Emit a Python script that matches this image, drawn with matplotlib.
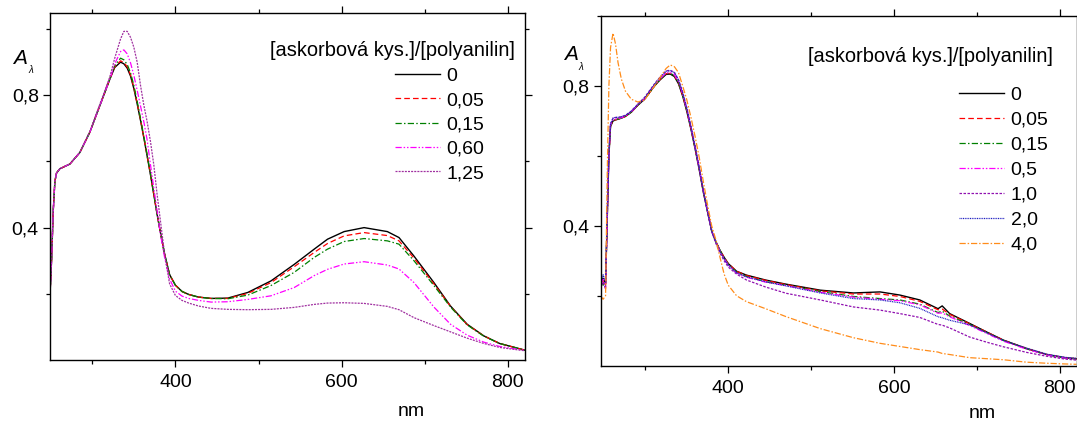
import matplotlib
matplotlib.use("Agg")
import matplotlib.pyplot as plt
from matplotlib.ticker import FixedLocator

plt.rcParams['font.family'] = ['Liberation Sans', 'DejaVu Sans']

# ---------------- Left panel data ----------------
wl_L = [249, 251, 253, 255, 257, 261, 267, 273, 285, 297, 309, 321, 327, 334, 338, 342,
        346, 350, 354, 358, 362, 366, 370, 374, 378, 382, 387, 393, 400, 408, 416, 428,
        443, 463, 487, 515, 543, 567, 583, 603, 627, 655, 669, 687, 711, 731, 751, 771,
        790, 805, 820]

L_0 = [0.19, 0.30, 0.45, 0.54, 0.565, 0.578, 0.585, 0.592, 0.627, 0.688, 0.768, 0.848, 0.884, 0.900, 0.895, 0.882,
       0.858, 0.820, 0.774, 0.724, 0.672, 0.616, 0.560, 0.500, 0.440, 0.385, 0.320, 0.258, 0.226, 0.207, 0.198, 0.190,
       0.186, 0.187, 0.204, 0.239, 0.289, 0.335, 0.365, 0.388, 0.400, 0.388, 0.370, 0.314, 0.234, 0.163, 0.108, 0.073,
       0.050, 0.040, 0.030]
L_005 = [0.19, 0.30, 0.45, 0.54, 0.565, 0.578, 0.585, 0.592, 0.627, 0.688, 0.768, 0.848, 0.886, 0.904, 0.899, 0.886,
         0.862, 0.823, 0.776, 0.726, 0.673, 0.617, 0.561, 0.500, 0.440, 0.385, 0.320, 0.258, 0.226, 0.207, 0.198, 0.190,
         0.186, 0.186, 0.201, 0.234, 0.282, 0.325, 0.352, 0.375, 0.385, 0.376, 0.360, 0.308, 0.230, 0.162, 0.107, 0.073,
         0.050, 0.040, 0.030]
L_015 = [0.19, 0.30, 0.45, 0.54, 0.565, 0.578, 0.585, 0.592, 0.627, 0.688, 0.768, 0.848, 0.890, 0.912, 0.907, 0.893,
         0.868, 0.830, 0.782, 0.730, 0.676, 0.620, 0.563, 0.502, 0.441, 0.385, 0.320, 0.258, 0.226, 0.207, 0.198, 0.190,
         0.186, 0.185, 0.196, 0.225, 0.265, 0.310, 0.335, 0.358, 0.367, 0.360, 0.350, 0.300, 0.225, 0.160, 0.106, 0.072,
         0.050, 0.040, 0.030]
L_060 = [0.19, 0.30, 0.45, 0.54, 0.565, 0.578, 0.585, 0.592, 0.627, 0.688, 0.768, 0.848, 0.895, 0.932, 0.937, 0.925,
         0.898, 0.860, 0.815, 0.768, 0.720, 0.665, 0.590, 0.520, 0.450, 0.380, 0.310, 0.245, 0.208, 0.193, 0.186, 0.180,
         0.175, 0.176, 0.183, 0.194, 0.219, 0.255, 0.274, 0.290, 0.297, 0.287, 0.275, 0.234, 0.160, 0.108, 0.075, 0.054,
         0.041, 0.035, 0.029]
L_125 = [0.19, 0.30, 0.45, 0.54, 0.565, 0.578, 0.585, 0.592, 0.627, 0.690, 0.772, 0.855, 0.912, 0.970, 0.993, 0.993,
         0.975, 0.945, 0.900, 0.830, 0.770, 0.720, 0.660, 0.590, 0.500, 0.420, 0.320, 0.230, 0.195, 0.180, 0.172, 0.163,
         0.156, 0.153, 0.152, 0.153, 0.159, 0.168, 0.172, 0.173, 0.171, 0.162, 0.152, 0.128, 0.104, 0.085, 0.066, 0.050,
         0.038, 0.033, 0.028]

labels_L = ['0', '0,05', '0,15', '0,60', '1,25']

# ---------------- Right panel data ----------------
wl_R = [246, 249, 252, 254, 256, 258, 261, 264, 267, 271, 276, 283, 291, 299, 311, 318, 325, 330,
        335, 340, 345, 350, 355, 360, 365, 370, 375, 380, 385, 390, 395, 400, 410, 422, 445, 470,
        511, 551, 583, 607, 631, 653, 658, 667, 691, 712, 732, 760, 784, 806, 820]

R_0 = [0.24, 0.25, 0.235, 0.42, 0.60, 0.685, 0.700, 0.703, 0.705, 0.708, 0.713, 0.725, 0.745, 0.762, 0.800, 0.818, 0.833, 0.834,
       0.827, 0.806, 0.771, 0.727, 0.676, 0.620, 0.560, 0.495, 0.440, 0.385, 0.355, 0.330, 0.310, 0.292, 0.270, 0.259, 0.245, 0.233,
       0.216, 0.208, 0.211, 0.202, 0.188, 0.163, 0.171, 0.149, 0.121, 0.096, 0.073, 0.049, 0.032, 0.023, 0.020]
R_005 = [0.25, 0.24, 0.23, 0.42, 0.60, 0.685, 0.700, 0.703, 0.705, 0.708, 0.713, 0.725, 0.745, 0.762, 0.800, 0.819, 0.835, 0.836,
         0.829, 0.808, 0.773, 0.729, 0.678, 0.622, 0.562, 0.497, 0.441, 0.386, 0.355, 0.330, 0.310, 0.292, 0.270, 0.258, 0.244, 0.232,
         0.214, 0.205, 0.205, 0.198, 0.184, 0.160, 0.162, 0.147, 0.120, 0.096, 0.073, 0.049, 0.032, 0.023, 0.020]
R_015 = [0.27, 0.23, 0.24, 0.42, 0.60, 0.685, 0.700, 0.703, 0.705, 0.708, 0.713, 0.725, 0.745, 0.762, 0.800, 0.819, 0.835, 0.836,
         0.830, 0.810, 0.775, 0.731, 0.679, 0.623, 0.563, 0.498, 0.441, 0.386, 0.355, 0.330, 0.308, 0.290, 0.267, 0.255, 0.240, 0.230,
         0.212, 0.198, 0.192, 0.188, 0.176, 0.152, 0.156, 0.142, 0.118, 0.094, 0.072, 0.048, 0.031, 0.022, 0.019]
R_05 = [0.23, 0.25, 0.22, 0.42, 0.60, 0.688, 0.703, 0.705, 0.707, 0.709, 0.714, 0.726, 0.746, 0.764, 0.802, 0.821, 0.837, 0.838,
        0.832, 0.812, 0.777, 0.733, 0.681, 0.624, 0.564, 0.498, 0.441, 0.386, 0.354, 0.328, 0.306, 0.288, 0.265, 0.253, 0.239, 0.229,
        0.210, 0.196, 0.190, 0.186, 0.174, 0.150, 0.151, 0.140, 0.115, 0.092, 0.070, 0.047, 0.031, 0.022, 0.019]
R_10 = [0.22, 0.24, 0.22, 0.43, 0.61, 0.692, 0.708, 0.710, 0.710, 0.712, 0.716, 0.728, 0.748, 0.767, 0.806, 0.826, 0.843, 0.845,
        0.839, 0.818, 0.782, 0.737, 0.684, 0.627, 0.566, 0.499, 0.440, 0.384, 0.350, 0.322, 0.300, 0.282, 0.262, 0.245, 0.225, 0.207,
        0.188, 0.168, 0.159, 0.149, 0.138, 0.118, 0.116, 0.108, 0.082, 0.067, 0.054, 0.038, 0.027, 0.019, 0.016]
R_20 = [0.23, 0.26, 0.24, 0.43, 0.61, 0.692, 0.708, 0.710, 0.710, 0.712, 0.716, 0.728, 0.748, 0.766, 0.805, 0.825, 0.842, 0.843,
        0.838, 0.817, 0.781, 0.736, 0.683, 0.626, 0.565, 0.499, 0.441, 0.385, 0.353, 0.327, 0.305, 0.288, 0.266, 0.254, 0.240, 0.228,
        0.208, 0.192, 0.188, 0.180, 0.164, 0.140, 0.137, 0.130, 0.117, 0.094, 0.072, 0.050, 0.033, 0.024, 0.021]
R_40 = [0.20, 0.19, 0.20, 0.55, 0.80, 0.910, 0.951, 0.920, 0.867, 0.820, 0.785, 0.762, 0.754, 0.760, 0.800, 0.825, 0.850, 0.860,
        0.855, 0.838, 0.800, 0.760, 0.710, 0.655, 0.595, 0.525, 0.460, 0.400, 0.360, 0.310, 0.262, 0.230, 0.200, 0.183, 0.163, 0.140,
        0.106, 0.080, 0.064, 0.055, 0.046, 0.039, 0.035, 0.032, 0.023, 0.020, 0.017, 0.010, 0.007, 0.005, 0.004]

labels_R = ['0', '0,05', '0,15', '0,5', '1,0', '2,0', '4,0']

legend_title = '[askorbová kys.]/[polyanilin]'

# ---------------- styles ----------------
styles_L = [
    dict(color='black', ls='-', lw=1.0),
    dict(color='#ff0000', ls=(0, (4.5, 2.5)), lw=0.9),
    dict(color='#008000', ls=(0, (5, 1.8, 1.2, 1.8)), lw=0.9),
    dict(color='#ff00ff', ls=(0, (5, 1.5, 1.2, 1.5, 1.2, 1.5)), lw=0.9),
    dict(color='#a030a0', ls=(0, (1.6, 0.9)), lw=0.9),
]
styles_R = [
    dict(color='black', ls='-', lw=1.0),
    dict(color='#ff0000', ls=(0, (4.5, 2.5)), lw=0.9),
    dict(color='#008000', ls=(0, (5, 1.8, 1.2, 1.8)), lw=0.9),
    dict(color='#ff00ff', ls=(0, (5, 1.5, 1.2, 1.5, 1.2, 1.5)), lw=0.9),
    dict(color='#9010b0', ls=(0, (2.0, 1.2)), lw=0.9),
    dict(color='#2020c0', ls=(0, (0.8, 0.6)), lw=0.9),
    dict(color='#ff8c1a', ls=(0, (5, 1.5, 1.2, 1.5)), lw=0.9),
]

W, H = 1077, 421
fig = plt.figure(figsize=(W / 100, H / 100), dpi=100)


def px_axes(l, r, t, b):
    return fig.add_axes([l / W, 1 - b / H, (r - l) / W, (b - t) / H])


axL = px_axes(49.9, 524.5, 12.5, 360)
axR = px_axes(600.6, 1076.5, 16, 365.7)

FS = 14

for ax in (axL, axR):
    ax.xaxis.set_major_locator(FixedLocator([400, 600, 800]))
    ax.xaxis.set_minor_locator(FixedLocator([300, 500, 700]))
    ax.yaxis.set_major_locator(FixedLocator([0.4, 0.8]))
    ax.yaxis.set_minor_locator(FixedLocator([0.2, 0.6, 1.0]))
    ax.set_xticklabels(['400', '600', '800'])
    ax.set_yticklabels(['0,4', '0,8'])
    ax.tick_params(which='both', direction='out', top=True, right=True, width=0.9,
                   labelsize=FS)
    ax.tick_params(axis='y', pad=3)
    ax.tick_params(axis='x', pad=5)
    ax.tick_params(which='major', length=5)
    ax.tick_params(which='minor', length=3)
    for s in ax.spines.values():
        s.set_linewidth(1.0)

seriesL = [L_0, L_005, L_015, L_060, L_125]
for y, lab, st in zip(seriesL, labels_L, styles_L):
    axL.plot(wl_L, y, label=lab, **st)
axL.set_xlim(249, 820)
axL.set_ylim(0.0, 1.05)

seriesR = [R_0, R_005, R_015, R_05, R_10, R_20, R_40]
for y, lab, st in zip(seriesR, labels_R, styles_R):
    axR.plot(wl_R, y, label=lab, **st)
axR.set_xlim(246, 820)
axR.set_ylim(0.0, 1.0)

# legends
legL = axL.legend(loc='upper left', bbox_to_anchor=(395 / W, 1 - 67 / H),
                  bbox_transform=fig.transFigure, frameon=False, fontsize=FS,
                  handlelength=2.3, handletextpad=0.35, labelspacing=0.35,
                  borderpad=0, borderaxespad=0)
legR = axR.legend(loc='upper left', bbox_to_anchor=(959 / W, 1 - 86 / H),
                  bbox_transform=fig.transFigure, frameon=False, fontsize=FS,
                  handlelength=2.3, handletextpad=0.35, labelspacing=0.38,
                  borderpad=0, borderaxespad=0)

fig.text(515 / W, 1 - 50 / H, legend_title, ha='right', va='center', fontsize=14.4)
fig.text(1053 / W, 1 - 56 / H, legend_title, ha='right', va='center', fontsize=14.4)

# y-axis symbol
fig.text(20 / W, 1 - 58 / H, 'A', style='italic', ha='center', va='center', fontsize=FS + 1)
fig.text(31 / W, 1 - 70 / H, 'λ', style='italic', ha='center', va='center', fontsize=7)
fig.text(571 / W, 1 - 55 / H, 'A', style='italic', ha='center', va='center', fontsize=FS + 1)
fig.text(581 / W, 1 - 67 / H, 'λ', style='italic', ha='center', va='center', fontsize=7)

# x-axis unit
fig.text(411 / W, 1 - 412 / H, 'nm', ha='center', va='center', fontsize=FS)
fig.text(982 / W, 1 - 413 / H, 'nm', ha='center', va='center', fontsize=FS)

fig.savefig('out.png', dpi=100)
